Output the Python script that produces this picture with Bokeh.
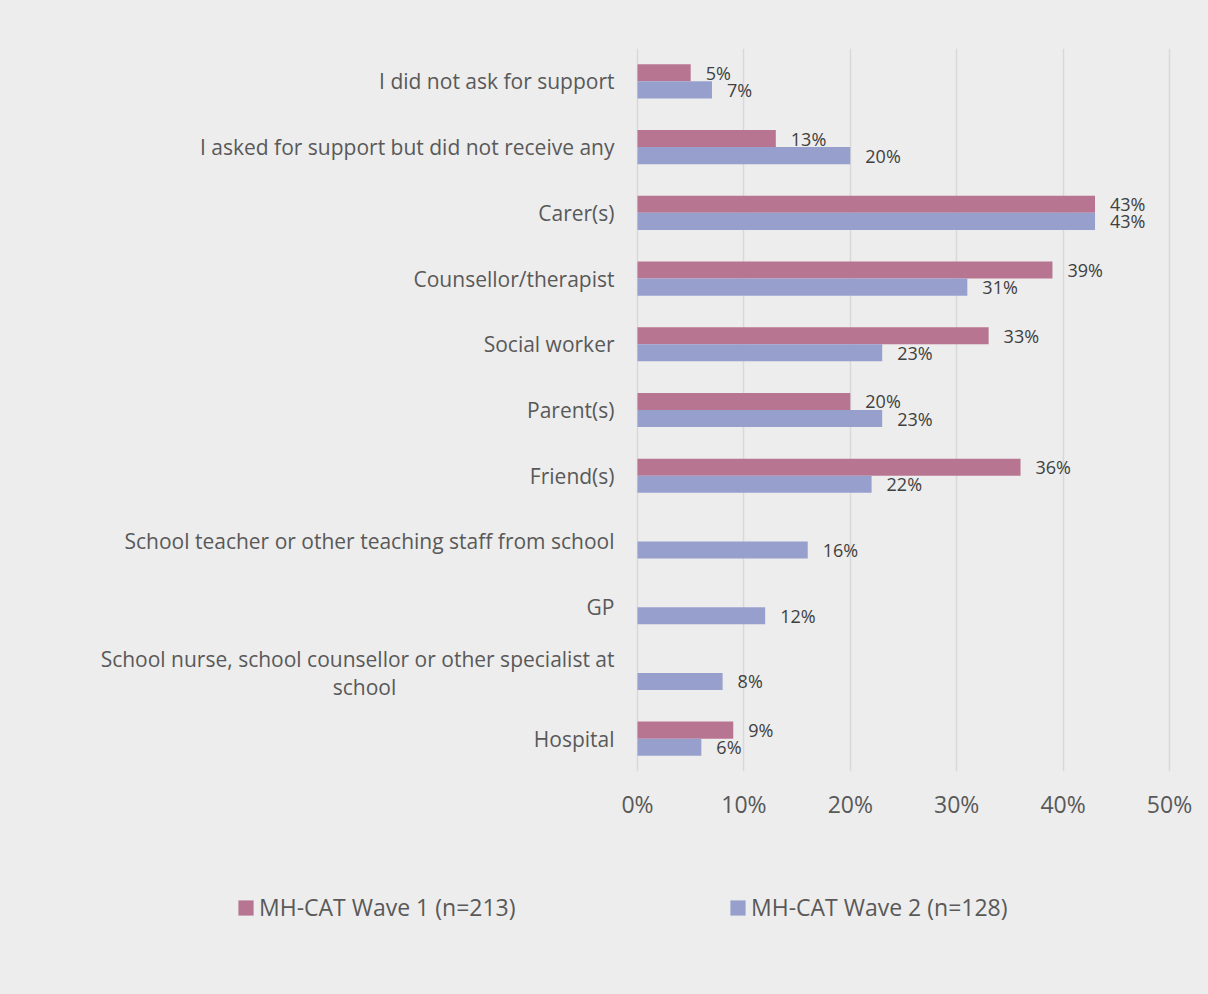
from bokeh.plotting import figure
from bokeh.layouts import column
from bokeh.models import (ColumnDataSource, FactorRange, Range1d, FixedTicker,
                          PrintfTickFormatter, Legend, LegendItem)
from bokeh.transform import dodge
from bokeh.core.properties import value
from bokeh.embed import file_html
from bokeh.resources import INLINE

categories = [
    "I did not ask for support",
    "I asked for support but did not receive any",
    "Carer(s)",
    "Counsellor/therapist",
    "Social worker",
    "Parent(s)",
    "Friend(s)",
    "School teacher or other teaching staff from school",
    "GP",
    "School nurse, school counsellor or other specialist at\nschool" + "\u00a0" * 40,
    "Hospital",
]
wave1 = [5, 13, 43, 39, 33, 20, 36, None, None, None, 9]
wave2 = [7, 20, 43, 31, 23, 23, 22, 16, 12, 8, 6]
series_names = ["MH-CAT Wave 1 (n=213)", "MH-CAT Wave 2 (n=128)"]
x_ticks = [0, 10, 20, 30, 40, 50]

PINK = "#b87592"
BLUE = "#97a0cc"
BG = "#ededed"
FONT = "Open Sans"
PX_PER_PCT = 10.64      # horizontal scale
ZERO_PX = 637           # pixel position of 0 %


def make_source(vals):
    cats, xs, labels = [], [], []
    for c, v in zip(categories, vals):
        if v is not None:
            cats.append(c)
            xs.append(v)
            labels.append(f"{v}%")
    return ColumnDataSource(dict(cat=cats, x=xs, label=labels))


src1 = make_source(wave1)
src2 = make_source(wave2)
cat_src = ColumnDataSource(dict(cat=categories, zero=[0] * len(categories)))

W, H_MAIN, H_LEG = 1208, 870, 124
RIGHT_BORDER = 18
p = figure(width=W, height=H_MAIN,
           y_range=FactorRange(factors=categories[::-1], range_padding=0),
           x_range=Range1d(-ZERO_PX / PX_PER_PCT, (W - RIGHT_BORDER - ZERO_PX) / PX_PER_PCT),
           y_axis_location=None,
           output_backend="svg", toolbar_location=None,
           min_border_left=0, min_border_right=RIGHT_BORDER,
           min_border_top=48, min_border_bottom=H_MAIN - 771)
p.background_fill_color = None
p.border_fill_color = BG
p.outline_line_color = None

bar_h = 0.26
p.hbar(y=dodge("cat", bar_h / 2, range=p.y_range), right="x", left=0,
       height=bar_h, source=src1, fill_color=PINK, line_color=None)
p.hbar(y=dodge("cat", -bar_h / 2, range=p.y_range), right="x", left=0,
       height=bar_h, source=src2, fill_color=BLUE, line_color=None)

for src, off in ((src1, bar_h / 2), (src2, -bar_h / 2)):
    p.text(x="x", y=dodge("cat", off, range=p.y_range), text="label", source=src,
           x_offset=15, text_baseline="middle", text_align="left",
           text_font=value(FONT), text_font_size="18px", text_color="#404040")

# category labels (left of the 0 % line)
p.text(x="zero", y="cat", text="cat", source=cat_src,
       x_offset=-23, text_align="right", text_baseline="middle",
       text_line_height=1.0,
       text_font=value(FONT), text_font_size="21px", text_color="#595959")

# x axis
p.xaxis.ticker = FixedTicker(ticks=x_ticks)
p.xaxis.formatter = PrintfTickFormatter(format="%d%%")
p.xaxis.axis_line_color = None
p.xaxis.major_tick_line_color = None
p.xaxis.minor_tick_line_color = None
p.xaxis.major_label_text_font = FONT
p.xaxis.major_label_text_font_size = "23px"
p.xaxis.major_label_text_color = "#595959"
p.xaxis.major_label_standoff = 10

p.xgrid.grid_line_color = "#d9d9d9"
p.xgrid.grid_line_width = 1.5
p.ygrid.grid_line_color = None

# legend strip
q = figure(width=W, height=H_LEG, x_range=Range1d(0, 1), y_range=Range1d(0, 1),
           x_axis_location=None, y_axis_location=None,
           output_backend="svg", toolbar_location=None,
           min_border_left=0, min_border_right=RIGHT_BORDER,
           min_border_top=0, min_border_bottom=0)
q.grid.visible = False
q.background_fill_color = None
q.border_fill_color = BG
q.outline_line_color = None
# proxy glyphs (outside the visible range) that only feed the legend swatches
k1 = q.hbar(y=[-5], left=[-5], right=[-4], height=1, fill_color=PINK, line_color=None)
k2 = q.hbar(y=[-5], left=[-5], right=[-4], height=1, fill_color=BLUE, line_color=None)

for r, name, lx in ((k1, series_names[0], 236), (k2, series_names[1], 728)):
    lg = Legend(items=[LegendItem(label=name, renderers=[r])],
                location=(lx, 71), orientation="horizontal",
                background_fill_alpha=0, border_line_color=None,
                padding=0, margin=0, glyph_width=19, glyph_height=19,
                label_height=25, label_standoff=4,
                label_text_font=FONT, label_text_font_size="23px",
                label_text_color="#595959")
    q.add_layout(lg, "center")

layout = column(p, q, spacing=0, styles={"background-color": BG})
open("out.html", "w").write(file_html(layout, INLINE))
